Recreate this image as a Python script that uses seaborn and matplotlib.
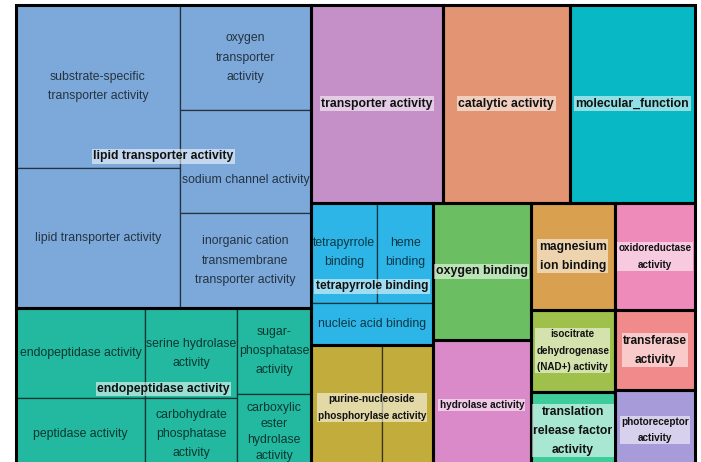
import matplotlib.pyplot as plt
import matplotlib.colors as mcolors
import seaborn as sns
from matplotlib.patches import Rectangle

# REVIGO-style treemap of GO molecular function terms
sns.set_theme(style="white")
plt.rcParams['font.family'] = ['Liberation Sans', 'DejaVu Sans']

# groups (representative terms), label text as drawn
groups = ["lipid transporter activity", "endopeptidase activity", "transporter activity",
          "catalytic activity", "molecular_function", "tetrapyrrole binding",
          "purine-nucleoside\nphosphorylase activity", "oxygen binding", "hydrolase activity",
          "magnesium\nion binding", "isocitrate\ndehydrogenase\n(NAD+) activity",
          "translation\nrelease factor\nactivity", "oxidoreductase\nactivity",
          "transferase\nactivity", "photoreceptor\nactivity"]

# member terms: label (blank where the picture shows none), group index, size value
term_labels = ["substrate-specific\ntransporter activity", "lipid transporter activity",
               "oxygen\ntransporter\nactivity", "sodium channel activity",
               "inorganic cation\ntransmembrane\ntransporter activity",
               "endopeptidase activity", "peptidase activity", "serine hydrolase\nactivity",
               "carbohydrate\nphosphatase\nactivity", "sugar-\nphosphatase\nactivity",
               "carboxylic\nester\nhydrolase\nactivity",
               "", "", "",
               "tetrapyrrole\nbinding", "heme\nbinding", "nucleic acid binding",
               "", "", "", "", "", "", "", "", "", ""]
term_group = [0, 0, 0, 0, 0, 1, 1, 1, 1, 1, 1, 2, 3, 4, 5, 5, 5, 6, 6, 7, 8, 9, 10, 11, 12, 13, 14]
term_value = [267, 230, 138, 135, 124, 116, 93, 83, 66, 64, 56, 261, 251, 248,
              66, 56, 51, 89, 64, 134, 127, 90, 69, 66, 86, 64, 64]

# slice structure of the treemap ("h" = side by side, "v" = stacked)
group_layout = ("h", [("v", [0, 1]),
                      ("v", [("h", [2, 3, 4]),
                             ("h", [("v", [5, 6]), ("v", [7, 8]),
                                    ("v", [9, 10, 11]), ("v", [12, 13, 14])])])])
term_layout = {0: ("h", [("v", [0, 1]), ("v", [2, 3, 4])]),
               1: ("h", [("v", [5, 6]), ("v", [7, 8]), ("v", [9, 10])]),
               5: ("v", [("h", [14, 15]), 16]),
               6: ("h", [17, 18])}

group_colors = ["#7CA9DA", "#22B9A0", "#C590C8", "#E39473", "#08B9C5", "#2CB5E6",
                "#C2AD3C", "#6BBF62", "#DB8AC9", "#D8A04F", "#A0C04C", "#3FCC9B",
                "#EF8BBB", "#F18B8B", "#A89BD9"]
group_fontsize = [8.8, 8.8, 8.8, 8.8, 8.8, 8.6, 7.2, 8.9, 7.2, 8.7, 7.1, 8.7, 7.1, 8.6, 7.2]


def node_value(node, vals):
    if isinstance(node, int):
        return vals[node]
    return sum(node_value(k, vals) for k in node[1])


def place(node, vals, x0, y0, x1, y1, out):
    if isinstance(node, int):
        out[node] = (x0, y0, x1, y1)
        return
    d, kids = node
    tot = node_value(node, vals)
    pos = x0 if d == "h" else y0
    for k in kids:
        f = node_value(k, vals) / tot
        if d == "h":
            w = (x1 - x0) * f
            place(k, vals, pos, y0, pos + w, y1, out)
            pos += w
        else:
            h = (y1 - y0) * f
            place(k, vals, x0, pos, x1, pos + h, out)
            pos += h


group_value = [sum(v for v, g in zip(term_value, term_group) if g == i) for i in range(len(groups))]
group_rect = {}
place(group_layout, group_value, 0, 0, 1, 1, group_rect)

term_rect = {}
for gi in range(len(groups)):
    members = [t for t, g in enumerate(term_group) if g == gi]
    spec = term_layout.get(gi, ("h", members))
    x0, y0, x1, y1 = group_rect[gi]
    place(spec, term_value, x0, y0, x1, y1, term_rect)

fig = plt.figure(figsize=(7.01, 4.62), dpi=100)
ax = fig.add_axes([16 / 701, 1 - 470 / 462, 679 / 701, 465 / 462])
ax.set_xlim(0, 1)
ax.set_ylim(1, 0)
ax.axis("off")

leaf_texts = []
for t, (x0, y0, x1, y1) in term_rect.items():
    col = group_colors[term_group[t]]
    dark = tuple(c * 0.3 for c in mcolors.to_rgb(col))
    ax.add_patch(Rectangle((x0, y0), x1 - x0, y1 - y0, facecolor=col,
                           edgecolor=dark, lw=0.9, clip_on=False))
    if term_labels[t]:
        txt = ax.text((x0 + x1) / 2, (y0 + y1) / 2, term_labels[t], ha="center", va="center",
                      multialignment="center", fontsize=8.8, color=dark, linespacing=1.8)
        leaf_texts.append((txt, t))

group_texts = {}
for gi, (x0, y0, x1, y1) in group_rect.items():
    ax.add_patch(Rectangle((x0, y0), x1 - x0, y1 - y0, fill=False,
                           edgecolor="black", lw=2.2, clip_on=False))
    group_texts[gi] = ax.text((x0 + x1) / 2, (y0 + y1) / 2, groups[gi], ha="center",
                              va="center", multialignment="center",
                              fontsize=group_fontsize[gi], fontweight="bold",
                              color="#111111", linespacing=1.8,
                              bbox=dict(boxstyle="square,pad=0.12", fc="white",
                                        ec="none", alpha=0.55))

fig.canvas.draw()
rend = fig.canvas.get_renderer()

# squeeze line spacing of term labels that are too tall for their cell
for txt, t in leaf_texts:
    x0, y0, x1, y1 = term_rect[t]
    cell_h = abs(ax.transData.transform((0, y1))[1] - ax.transData.transform((0, y0))[1])
    ls = 1.8
    while txt.get_window_extent(rend).height > 0.8 * cell_h and ls > 1.2:
        ls -= 0.05
        txt.set_linespacing(ls)

# where a term label runs into its group label, push the lower one down
gap = 12
for txt, t in leaf_texts:
    gtxt = group_texts[term_group[t]]
    lb = txt.get_window_extent(rend)
    gb = gtxt.get_window_extent(rend)
    if not lb.overlaps(gb):
        continue
    if lb.y0 + lb.y1 < gb.y0 + gb.y1:
        low, dy = txt, lb.y1 - gb.y0 + gap
    else:
        low, dy = gtxt, gb.y1 - lb.y0 + gap
    x, y = low.get_position()
    px, py = ax.transData.transform((x, y))
    low.set_position((x, ax.transData.inverted().transform((px, py - dy))[1]))

fig.savefig("out.png", dpi=100)
